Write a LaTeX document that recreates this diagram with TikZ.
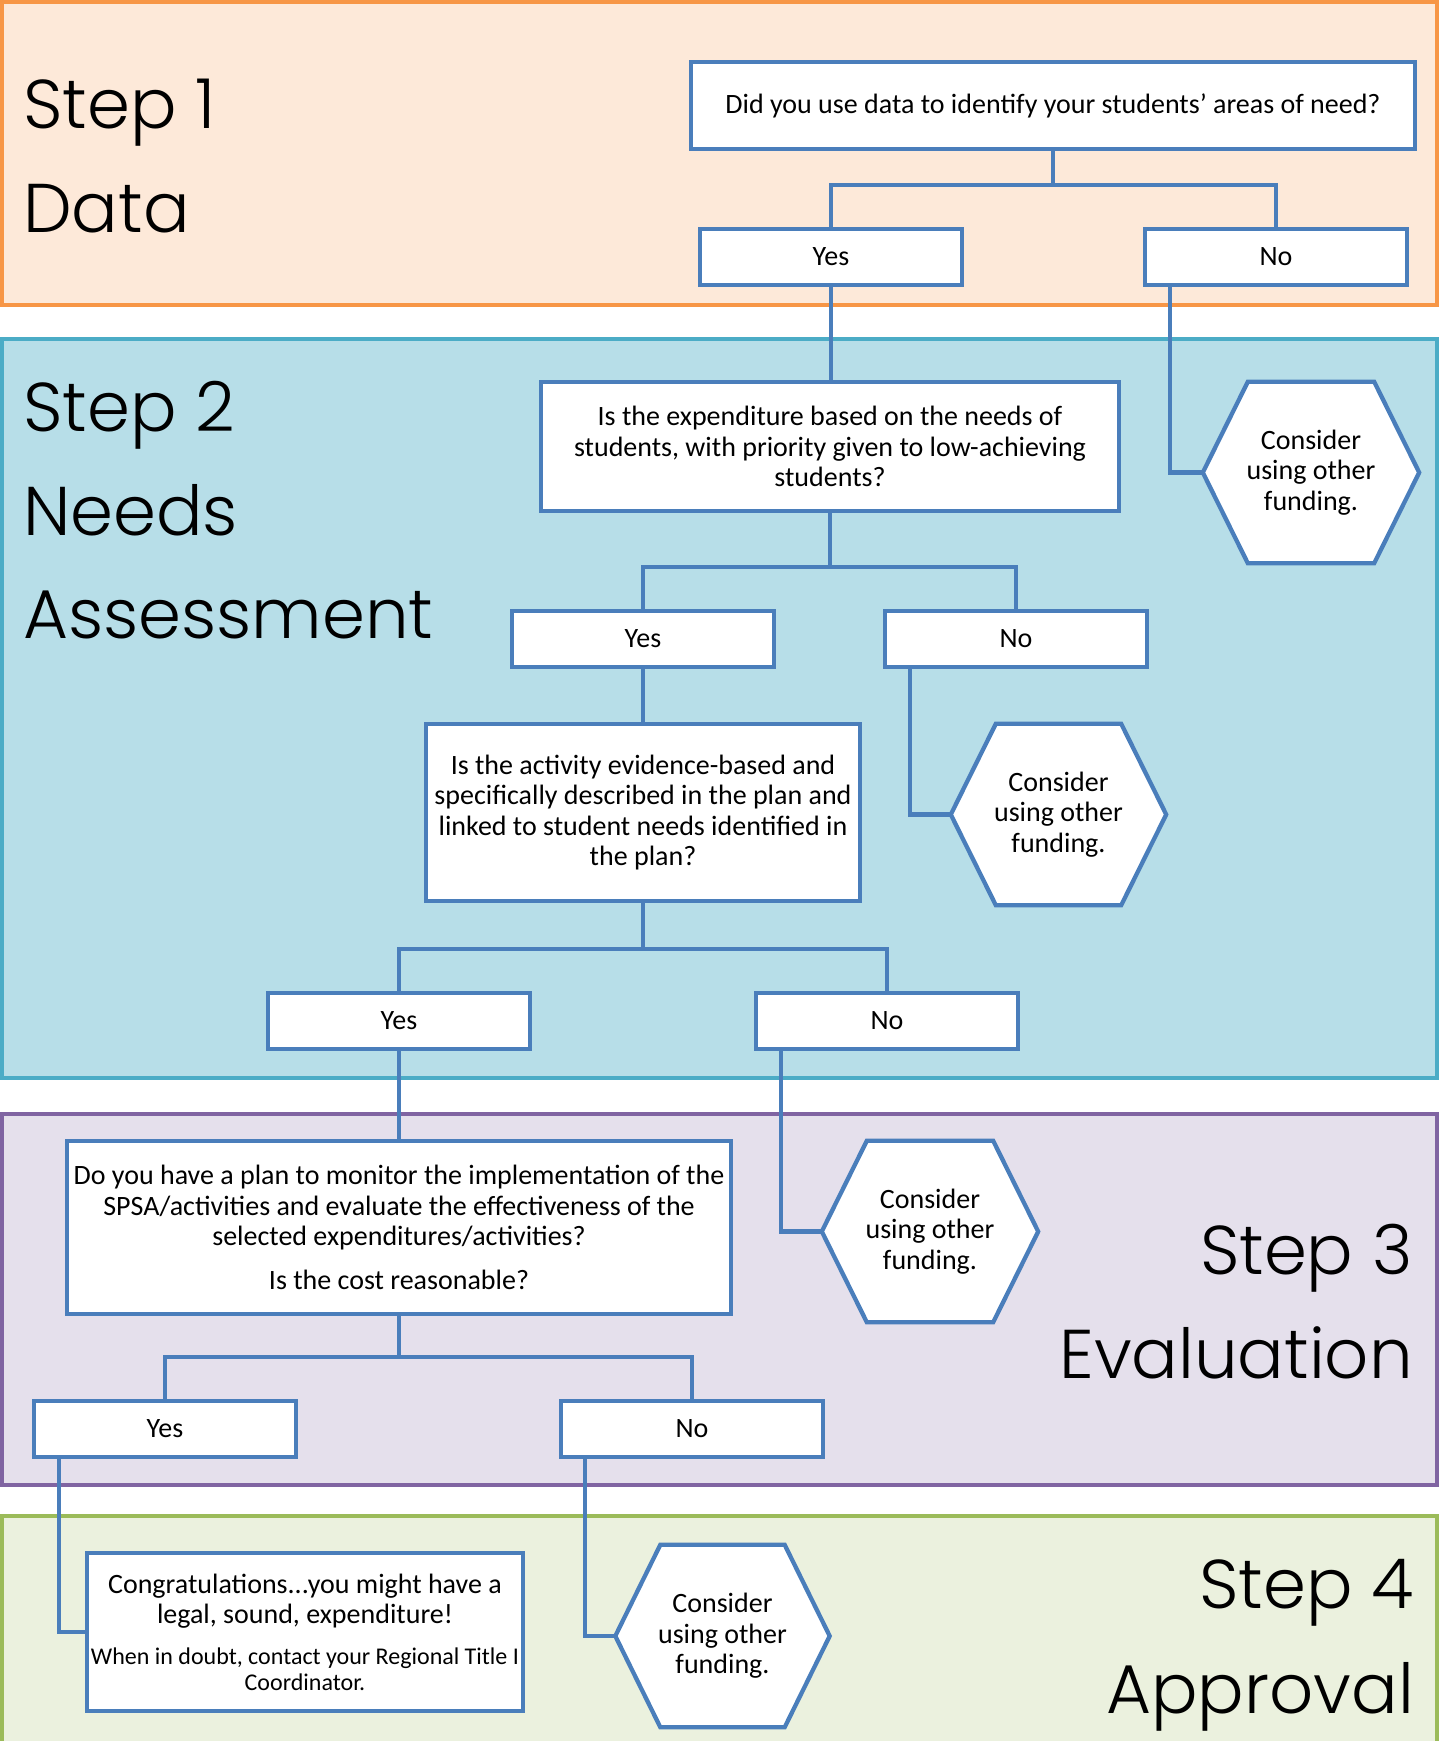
\documentclass[tikz,border=0pt]{standalone}
\usepackage{fontspec}
\setmainfont{Carlito}
\newfontfamily\stepfont{Poppins Light}
\usetikzlibrary{calc}
\definecolor{boxblue}{HTML}{4A7EBB}
\definecolor{orfill}{HTML}{FDE9D9}
\definecolor{ordraw}{HTML}{F79646}
\definecolor{blfill}{HTML}{B7DEE8}
\definecolor{bldraw}{HTML}{4BACC6}
\definecolor{pufill}{HTML}{E5E0EC}
\definecolor{pudraw}{HTML}{8064A2}
\definecolor{grfill}{HTML}{EBF1DE}
\definecolor{grdraw}{HTML}{9BBB59}
\pgfdeclarelayer{bands}
\pgfdeclarelayer{hexes}
\pgfsetlayers{bands,hexes,main}
\newcommand\boxfont{\fontsize{28}{30.5}\selectfont}
\newcommand\smallboxfont{\fontsize{24}{26}\selectfont}
\newcommand\hexoutline[1]{%
  \begin{pgfonlayer}{hexes}
  \draw[boxline,fill=white] (#1.west) -- ([xshift=45pt]#1.north west) -- ([xshift=-45pt]#1.north east)
    -- (#1.east) -- ([xshift=-45pt]#1.south east) -- ([xshift=45pt]#1.south west) -- cycle;
  \end{pgfonlayer}}
\tikzset{
  boxline/.style={draw=boxblue,line width=4.3pt},
  qbox/.style={boxline,fill=white,inner sep=0pt,align=center,font=\boxfont},
  ynbox/.style={qbox,minimum width=262pt,minimum height=56pt},
  hexnode/.style={inner sep=0pt,align=center,font=\boxfont,minimum width=216pt,minimum height=181pt},
  conn/.style={boxline},
  band/.style={line width=4pt},
  steplbl/.style={inner sep=0pt,font=\stepfont\fontsize{69}{80}\selectfont}
}
\begin{document}
\begin{tikzpicture}[x=1pt,y=-1pt]
\useasboundingbox (0,0) rectangle (1442,1741);
\clip (0,0) rectangle (1442,1741);
\begin{pgfonlayer}{bands}
\draw[band,draw=ordraw,fill=orfill] (2,2) rectangle (1437,305);
\draw[band,draw=bldraw,fill=blfill] (2,339) rectangle (1437,1078);
\draw[band,draw=pudraw,fill=pufill] (2,1114) rectangle (1437,1485);
\draw[band,draw=grdraw,fill=grfill] (2,1516) rectangle (1437,1780);
\end{pgfonlayer}

% step labels
\node[steplbl,anchor=base west] (s1a) at (23,128) {Step 1};
\node[steplbl,anchor=base west] (s1b) at (23,232) {Data};
\node[steplbl,anchor=base west] (s2a) at (23,431) {Step 2};
\node[steplbl,anchor=base west] (s2b) at (23,535) {Needs};
\node[steplbl,anchor=base west] (s2c) at (23,638) {Assessment};
\node[steplbl,anchor=base east] (s3a) at (1413,1274) {Step 3};
\node[steplbl,anchor=base east] (s3b) at (1413,1378) {Evaluation};
\node[steplbl,anchor=base east] (s4a) at (1414,1608) {Step 4};
\node[steplbl,anchor=base east] (s4b) at (1414,1713) {Approval};

% boxes
\node[qbox,minimum width=724pt,minimum height=87pt] (b1) at (1053,105.5)
  {Did you use data to identify your students’ areas of need?};
\node[ynbox] (y1) at (831,257) {Yes};
\node[ynbox] (n1) at (1276,257) {No};
\node[qbox,minimum width=578pt,minimum height=129pt] (b2) at (830,446.5)
  {Is the expenditure based on the needs of\\students, with priority given to low-achieving\\students?};
\node[hexnode] (h1) at (1311,472.5) {Consider\\using other\\funding.};
\hexoutline{h1}
\node[ynbox] (y2) at (643,639) {Yes};
\node[ynbox] (n2) at (1016,639) {No};
\node[qbox,minimum width=434pt,minimum height=177pt] (b3) at (643,812.5)
  {Is the activity evidence-based and\\specifically described in the plan and\\linked to student needs identified in\\the plan?};
\node[hexnode,minimum width=215pt] (h2) at (1058.5,814.5) {Consider\\using other\\funding.};
\hexoutline{h2}
\node[ynbox] (y3) at (399,1021) {Yes};
\node[ynbox] (n3) at (887,1021) {No};
\node[qbox,minimum width=664pt,minimum height=173pt] (b4) at (399,1227.5)
  {Do you have a plan to monitor the implementation of the\\SPSA/activities and evaluate the effectiveness of the\\selected expenditures/activities?\\[13pt]Is the cost reasonable?};
\node[hexnode] (h3) at (930,1231.5) {Consider\\using other\\funding.};
\hexoutline{h3}
\node[ynbox] (y4) at (165,1429) {Yes};
\node[ynbox] (n4) at (692,1429) {No};
\node[qbox,minimum width=436pt,minimum height=158pt] (b5) at (305,1632)
  {Congratulations...you might have a\\legal, sound, expenditure!\\[10pt]{\smallboxfont When in doubt, contact your Regional Title I}\\[-4.5pt]{\smallboxfont Coordinator.}};
\node[hexnode,minimum width=214pt,minimum height=182pt] (h4) at (722.5,1636) {Consider\\using other\\funding.};
\hexoutline{h4}

% connectors
\draw[conn] (b1.south) -- ++(0,34) coordinate (j1) -| (y1.north);
\draw[conn] (j1) -| (n1.north);
\draw[conn] (y1.south) -- (y1.south |- b2.north);
\draw[conn] ([xshift=27pt]n1.south west) |- (h1.west);
\draw[conn] (b2.south) -- ++(0,54) coordinate (j2) -| (y2.north);
\draw[conn] (j2) -| (n2.north);
\draw[conn] (y2.south) -- (y2.south |- b3.north);
\draw[conn] ([xshift=27pt]n2.south west) |- (h2.west);
\draw[conn] (b3.south) -- ++(0,46) coordinate (j3) -| (y3.north);
\draw[conn] (j3) -| (n3.north);
\draw[conn] (y3.south) -- (y3.south |- b4.north);
\draw[conn] ([xshift=27pt]n3.south west) |- (h3.west);
\draw[conn] (b4.south) -- ++(0,41) coordinate (j4) -| (y4.north);
\draw[conn] (j4) -| (n4.north);
\draw[conn] ([xshift=27pt]y4.south west) |- (b5.west);
\draw[conn] ([xshift=26pt]n4.south west) |- (h4.west);
\end{tikzpicture}
\end{document}
